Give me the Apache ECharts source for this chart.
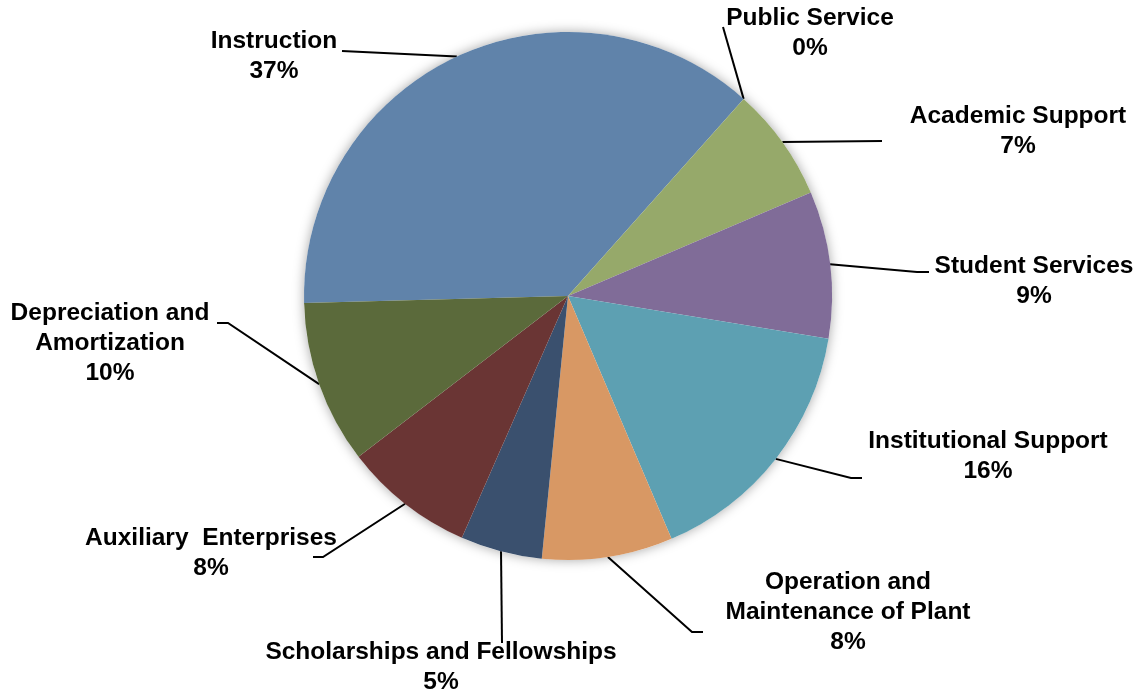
<!DOCTYPE html>
<html>
<head>
<meta charset="utf-8">
<title>Expenses by Function</title>
<script src="https://cdn.jsdelivr.net/npm/echarts@6/dist/echarts.min.js"></script>
<style>
  html, body { margin: 0; padding: 0; background: #ffffff; }
  #chart { width: 1144px; height: 694px; }
</style>
</head>
<body>
<div id="chart"></div>
<script>
// Expense categories, clockwise from the left edge of the pie
const categories = [
  'Instruction',
  'Public Service',
  'Academic Support',
  'Student Services',
  'Institutional Support',
  'Operation and\nMaintenance of Plant',
  'Scholarships and Fellowships',
  'Auxiliary  Enterprises',
  'Depreciation and\nAmortization'
];
// Share of total expenses, percent
const shares = [37, 0, 7, 9, 16, 8, 5, 8, 10];
const colors = ['#6083AA', '#4BACC6', '#96A96A', '#806C98', '#5DA0B2', '#D89864', '#3A506E', '#6A3534', '#5B6A3B'];

const CENTER = [568, 296];
const RADIUS = 264;

// Label block centres and the leader-line path (bend point, end point) for each slice
const labelPlacement = [
  { x: 274, y: 56,  path: [[342, 51], [342, 51]] },
  { x: 810, y: 33,  path: [[723, 27], [723, 27]] },
  { x: 1018, y: 131, path: [[882, 141], [882, 141]] },
  { x: 1034, y: 281, path: [[917, 272], [929, 272]] },
  { x: 988, y: 456, path: [[851, 478], [862, 478]] },
  { x: 848, y: 612, path: [[692, 632], [703, 632]] },
  { x: 441, y: 667, path: [[502, 643], [502, 643]] },
  { x: 211, y: 553, path: [[323, 557], [313, 557]] },
  { x: 110, y: 343, path: [[228, 323], [217, 323]] }
];

const chart = echarts.init(document.getElementById('chart'), null, { renderer: 'canvas' });

const data = categories.map((name, i) => ({
  name: name,
  value: shares[i],
  itemStyle: { color: colors[i] }
}));

chart.setOption({
  backgroundColor: '#ffffff',
  animation: false,
  series: [
    {
      // soft shadow behind the whole pie
      type: 'pie',
      silent: true,
      z: 1,
      center: CENTER,
      radius: RADIUS,
      label: { show: false },
      labelLine: { show: false },
      itemStyle: {
        color: '#ffffff',
        shadowBlur: 12,
        shadowColor: 'rgba(0,0,0,0.35)'
      },
      data: [{ value: 1, name: '' }]
    },
    {
      type: 'pie',
      z: 2,
      center: CENTER,
      radius: RADIUS,
      startAngle: 181.5,
      clockwise: true,
      avoidLabelOverlap: false,
      itemStyle: { borderWidth: 0 },
      label: {
        show: true,
        position: 'outside',
        formatter: p => p.name + '\n' + p.value + '%',
        fontFamily: '"Liberation Sans", Arial, sans-serif',
        fontWeight: 'bold',
        fontSize: 24.5,
        lineHeight: 30,
        color: '#000000',
        align: 'center'
      },
      labelLine: {
        show: true,
        length: 10,
        length2: 10,
        lineStyle: { color: '#000000', width: 2 }
      },
      labelLayout: function (params) {
        const p = labelPlacement[params.dataIndex];
        const start = params.labelLinePoints ? params.labelLinePoints[0] : p.path[0];
        return {
          x: p.x,
          y: p.y,
          align: 'center',
          verticalAlign: 'middle',
          labelLinePoints: [start, p.path[0], p.path[1]]
        };
      },
      emphasis: { disabled: true },
      data: data
    }
  ]
});
</script>
</body>
</html>
